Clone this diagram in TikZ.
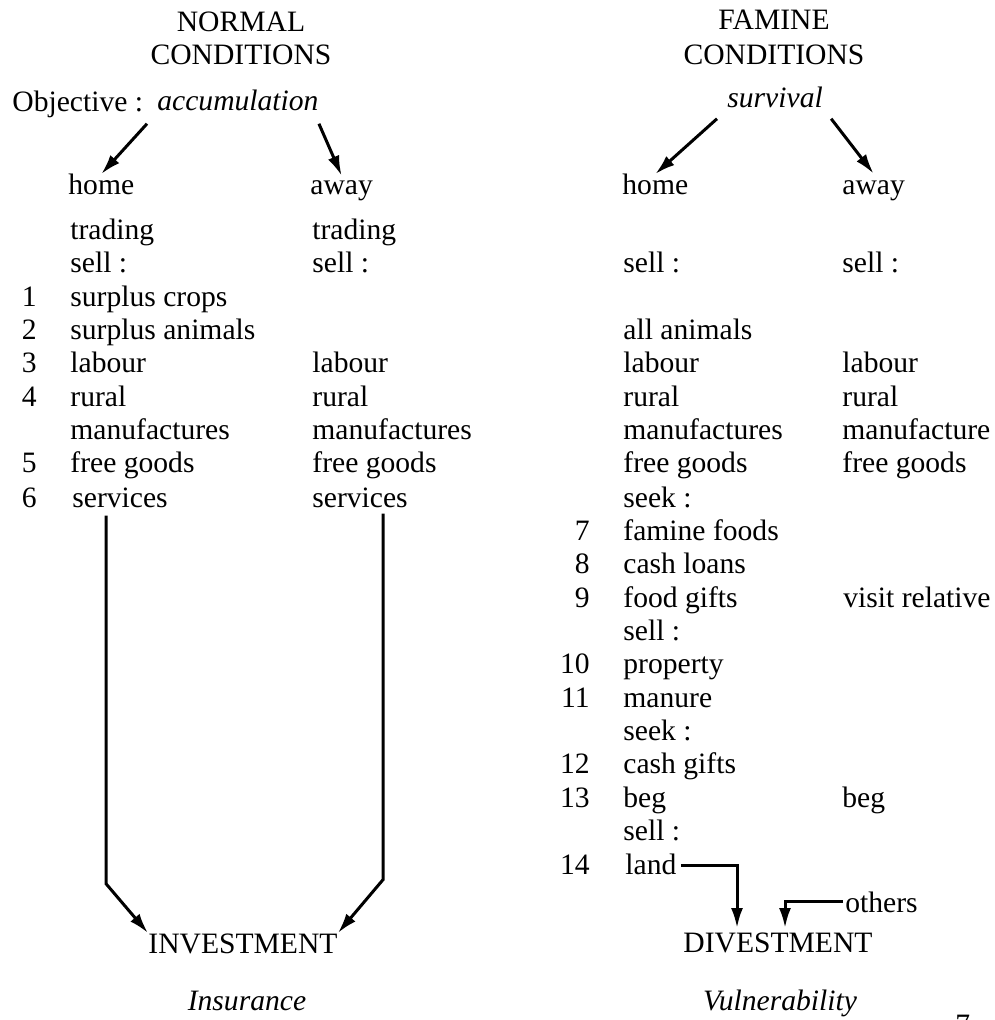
\documentclass[tikz,border=0pt]{standalone}
\usepackage{fontspec}
\setmainfont{Liberation Serif}
\usetikzlibrary{arrows.meta,calc}
\tikzset{
  txt/.style={anchor=base west, inner sep=0pt},
  num/.style={anchor=base east, inner sep=0pt},
  head/.style={anchor=base, inner sep=0pt},
  flow/.style={line width=1.5pt, -{Latex[length=10pt,width=6pt]}},
}
\begin{document}
\begin{tikzpicture}[x=0.5pt,y=-0.5pt,font=\fontsize{14.8}{17}\selectfont]
        \useasboundingbox (0,0) rectangle (994,1020);
        % normal conditions
        \node[head] (normal) at (241,32) {NORMAL};
        \node[head] (condl) at (241,65) {CONDITIONS};
        \node[txt] (objective) at (12,112) {Objective :};
        \node[txt] (accum) at (157,111) {\itshape accumulation};
        \node[txt] (homel) at (68,195) {home};
        \node[txt] (awayl) at (310,195) {away};
        \draw[flow] ($(accum.south west)+(-10,12)$) -- (homel.north);
        \draw[flow] ($(accum.south east)+(0,12)$) -- ($(awayl.north)+(0,-5)$);
        % home column
        \node[txt] (tradl) at (70,240) {trading};
        \node[txt] (selll) at (70,273) {sell :};
        \node[num] (n1) at (37,307) {1};
        \node[txt] (crops) at (70,307) {surplus crops};
        \node[num] (n2) at (37,340) {2};
        \node[txt] (animl) at (70,340) {surplus animals};
        \node[num] (n3) at (37,373) {3};
        \node[txt] (labl) at (70,373) {labour};
        \node[num] (n4) at (37,407) {4};
        \node[txt] (rurl) at (70,407) {rural};
        \node[txt] (manl) at (70,440) {manufactures};
        \node[num] (n5) at (37,473) {5};
        \node[txt] (freel) at (70,473) {free goods};
        \node[num] (n6) at (37,507) {6};
        \node[txt] (servl) at (72,507) {services};
        % away column
        \node[txt] (tradla) at (312,240) {trading};
        \node[txt] (sellla) at (312,273) {sell :};
        \node[txt] (labla) at (312,373) {labour};
        \node[txt] (rurla) at (312,407) {rural};
        \node[txt] (manla) at (312,440) {manufactures};
        \node[txt] (freela) at (312,473) {free goods};
        \node[txt] (servla) at (312,507) {services};
        % investment
        \node[txt] (invest) at (148,953) {INVESTMENT};
        \node[head] (insur) at (247,1010) {\itshape Insurance};
        \draw[flow] ($(servl.south west)+(34,8)$) -- ++(0,368) -- (invest.north west);
        \draw[flow] ($(servla.south west)+(71,6)$) -- ++(0,366) -- (invest.north east);
        % famine conditions
        \node[head] (famine) at (774,30) {FAMINE};
        \node[head] (condr) at (774,65) {CONDITIONS};
        \node[txt] (surv) at (727,108) {\itshape survival};
        \node[txt] (homer) at (622,195) {home};
        \node[txt] (awayr) at (842,195) {away};
        \draw[flow] ($(surv.south west)+(-10,10)$) -- (homer.north);
        \draw[flow] ($(surv.south east)+(8,10)$) -- ($(awayr.north)+(0,-7)$);
        % home column
        \node[txt] (sellr) at (623,273) {sell :};
        \node[txt] (allan) at (623,340) {all animals};
        \node[txt] (labr) at (623,373) {labour};
        \node[txt] (rurr) at (623,407) {rural};
        \node[txt] (manr) at (623,440) {manufactures};
        \node[txt] (freer) at (623,473) {free goods};
        \node[txt] (seekr) at (623,507) {seek :};
        \node[num] (n7) at (590,540) {7};
        \node[txt] (ffood) at (623,540) {famine foods};
        \node[num] (n8) at (590,573) {8};
        \node[txt] (loans) at (623,573) {cash loans};
        \node[num] (n9) at (590,607) {9};
        \node[txt] (fgift) at (623,607) {food gifts};
        \node[txt] (sellr2) at (623,640) {sell :};
        \node[num] (n10) at (590,673) {10};
        \node[txt] (prop) at (623,673) {property};
        \node[num] (n11) at (590,707) {11};
        \node[txt] (manure) at (623,707) {manure};
        \node[txt] (seekr2) at (623,740) {seek :};
        \node[num] (n12) at (590,773) {12};
        \node[txt] (cgift) at (623,773) {cash gifts};
        \node[num] (n13) at (590,807) {13};
        \node[txt] (begr) at (623,807) {beg};
        \node[txt] (sellr3) at (623,840) {sell :};
        \node[num] (n14) at (590,874) {14};
        \node[txt] (land) at (625,874) {land};
        % away column
        \node[txt] (sellra) at (842,273) {sell :};
        \node[txt] (labra) at (842,373) {labour};
        \node[txt] (rurra) at (842,407) {rural};
        \node[txt] (manra) at (842,440) {manufacture};
        \node[txt] (freera) at (842,473) {free goods};
        \node[txt] (visit) at (843,607) {visit relative};
        \node[txt] (begra) at (842,807) {beg};
        % divestment
        \node[txt] (divest) at (683,952) {DIVESTMENT};
        \node[txt] (others) at (845,912) {others};
        \node[head] (vuln) at (780,1010) {\itshape Vulnerability};
        \draw[flow] ($(land.east)+(4,2)$) -| ($(divest.north west)+(54,-4)$);
        \draw[flow] ($(others.west)+(-2,0)$) -| ($(divest.north west)+(102,-4)$);
        % page number
        \node[txt] (pageno) at (955,1034) {7};
      \end{tikzpicture}
\end{document}
